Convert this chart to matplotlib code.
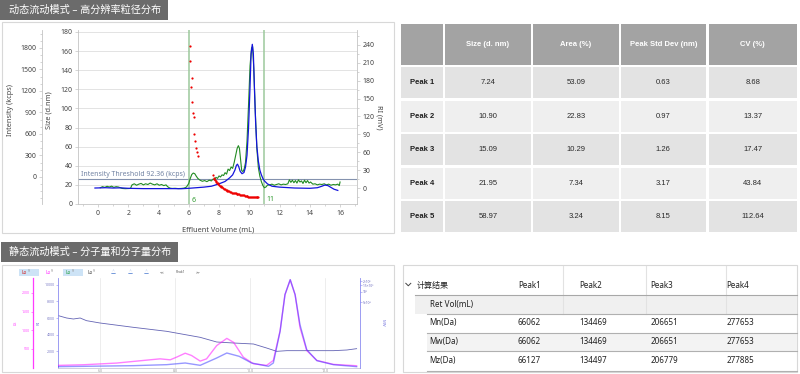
import numpy as np
import matplotlib
matplotlib.use("Agg")
import matplotlib.pyplot as plt
from matplotlib.patches import Rectangle
from matplotlib.ticker import MultipleLocator, NullLocator

plt.rcParams.update({
    "font.family": ["Noto Sans", "Noto Sans CJK SC", "DejaVu Sans"],
    "font.size": 5,
    "axes.linewidth": 0.6,
})

W, H = 800, 374

# ---------------- data: dynamic flow (DLS-SEC) ----------------
title_dyn = "动态流动模式 – 高分辨率粒径分布"
title_sta = "静态流动模式 – 分子量和分子量分布"

size_x = [6.08, 6.10, 6.15, 6.20, 6.23, 6.28, 6.33, 6.37, 6.41, 6.48, 6.55, 6.61,
          7.62, 7.66, 7.70, 7.74, 7.78, 7.82, 7.86, 7.90, 7.95, 8.00, 8.05, 8.10,
          8.15, 8.20, 8.26, 8.32, 8.38, 8.44, 8.50, 8.56, 8.62, 8.68, 8.74, 8.80,
          8.86, 8.92, 8.98, 9.04, 9.10, 9.16, 9.22, 9.28, 9.34, 9.40, 9.46, 9.52,
          9.58, 9.64, 9.70, 9.76, 9.82, 9.88, 9.94, 10.00, 10.06, 10.12, 10.18,
          10.24, 10.30, 10.36, 10.42, 10.48, 10.54, 10.60]
size_nm = [165.7, 150.0, 122.8, 131.6, 106.4, 95.5, 91.0, 73.3, 66.0, 59.0, 54.7, 50.5,
           30.0, 27.5, 26.0, 25.5, 24.0, 23.5, 22.0, 21.5, 20.5, 20.0, 19.0, 18.5,
           18.0, 17.5, 16.5, 16.0, 15.5, 15.0, 14.5, 14.0, 14.0, 13.5, 13.0, 12.5,
           12.0, 11.5, 11.5, 11.0, 11.0, 10.5, 10.0, 10.5, 10.0, 9.5, 9.5, 9.0,
           9.5, 9.0, 8.5, 8.0, 8.5, 8.0, 7.5, 7.5, 7.0, 7.5, 7.0,
           7.0, 7.5, 7.0, 7.0, 7.5, 7.5, 7.5]

int_x = [0.15, 0.3, 0.45, 0.6, 0.75, 0.9, 1.05, 1.2, 1.35, 1.45, 1.6, 1.8, 2.0, 2.15,
         2.25, 2.4, 2.55, 2.7, 2.85, 3.0, 3.15, 3.3, 3.45, 3.6, 3.75, 3.9, 4.05, 4.2,
         4.35, 4.5, 4.6, 4.75, 4.9, 5.1, 5.3, 5.5, 5.7, 5.85, 6.0, 6.1, 6.2, 6.3, 6.4,
         6.5, 6.6, 6.75, 6.9, 7.05, 7.2, 7.35, 7.5, 7.6, 7.7, 7.8, 7.9, 8.0, 8.1, 8.2,
         8.3, 8.4, 8.5, 8.6, 8.7, 8.8, 8.9, 9.0, 9.1, 9.2, 9.28, 9.35, 9.42, 9.5, 9.58,
         9.66, 9.75, 9.85, 9.95, 10.05, 10.15, 10.22, 10.3, 10.4, 10.5, 10.6, 10.7,
         10.8, 10.9, 11.0, 11.1, 11.2, 11.35, 11.5, 11.65, 11.8, 11.95, 12.1, 12.25,
         12.4, 12.55, 12.65, 12.75, 12.85, 12.95, 13.05, 13.15, 13.25, 13.35, 13.45,
         13.55, 13.65, 13.75, 13.85, 13.95, 14.05, 14.2, 14.35, 14.5, 14.65, 14.8,
         14.95, 15.1, 15.25, 15.4, 15.55, 15.7, 15.85, 15.95, 16.0]
int_kcps = [-150, -135, -145, -130, -140, -128, -145, -135, -140, -148, -160, -163, -162, -160,
            -110, -95, -115, -100, -90, -110, -95, -105, -85, -100, -110, -95, -115, -105,
            -120, -110, -135, -155, -160, -158, -162, -160, -155, -140, -90, -20, 35, 55, 45,
            10, -20, -45, -60, -50, -65, -45, -55, -30, -40, -5, -20, 15, 0, 30,
            20, 60, 40, 110, 90, 140, 120, 200, 300, 400, 437, 400, 250, 90, 75,
            110, 200, 500, 1000, 1550, 1800, 1820, 1500, 900, 400, 130, 10,
            -65, -120, -150, -140, -115, -110, -100, -115, -105, -95, -110, -100,
            -105, -95, -40, -75, -45, -80, -50, -85, -40, -70, -55,
            -90, -45, -80, -50, -85, -70, -100, -95, -110, -100, -105,
            -95, -110, -100, -115, -105, -110, -100, -120, -70]

ri_x = [-0.2, 0.5, 1.0, 1.5, 2.0, 3.0, 4.0, 5.0, 5.5, 6.0, 6.5, 7.0, 7.5, 8.0, 8.4,
        8.7, 8.9, 9.05, 9.15, 9.22, 9.3, 9.4, 9.52, 9.65, 9.75, 9.85, 9.95, 10.05,
        10.12, 10.2, 10.27, 10.35, 10.42, 10.5, 10.6, 10.7, 10.8, 10.9, 11.0, 11.2,
        11.5, 12.0, 13.0, 14.0, 14.5, 14.8, 15.0, 15.2, 15.4, 15.6, 15.85]
ri_mv = [0, 0.5, 0, 0.3, -0.5, -1, -1, -1, -1.2, -0.5, 0.5, 1.5, 3, 7, 11,
         17, 22, 30, 38, 40, 36, 28, 24, 26, 35, 55, 100, 170,
         225, 241, 225, 160, 110, 70, 45, 30, 22, 16, 12, 7,
         3, 1.5, 0, -0.5, 0.5, 3, 5, 4, 1, -2, -4]

threshold_label = "Intensity Threshold 92.36 (kcps)"
threshold_level = 26          # drawn level on the size scale
peak_window = [6, 11]

# ---------------- data: results table ----------------
tt_headers = ["Size (d. nm)", "Area (%)", "Peak Std Dev (nm)", "CV (%)"]
tt_rows = ["Peak 1", "Peak 2", "Peak 3", "Peak 4", "Peak 5"]
tt_size = ["7.24", "10.90", "15.09", "21.95", "58.97"]
tt_area = ["53.09", "22.83", "10.29", "7.34", "3.24"]
tt_std = ["0.63", "0.97", "1.26", "3.17", "8.15"]
tt_cv = ["8.68", "13.37", "17.47", "43.84", "112.64"]

# ---------------- data: static flow (SEC-MALS) ----------------
mw_x = [4.89, 5.11, 5.29, 5.47, 5.64, 6.0, 6.89, 7.78, 8.67, 9.11, 9.56, 10.09,
        10.44, 10.71, 10.98, 12.22, 12.58, 12.84]
mw_trace = [6280, 6000, 5880, 6000, 5680, 5400, 4880, 4400, 3680, 3120, 3000, 2880,
            2400, 2000, 2080, 2080, 2160, 2320]

ls_x = [4.89, 5.56, 6.44, 7.33, 7.6, 7.87, 8.04, 8.27, 8.44, 8.67, 8.84, 9.11, 9.38,
        9.56, 9.82, 10.09, 10.44, 10.62, 10.8, 10.93, 11.07, 11.2, 11.33, 11.51,
        11.78, 12.22, 12.84]
ls_sig = [60, 77, 122, 209, 235, 209, 280, 386, 325, 175, 235, 590, 783,
          677, 280, 103, 60, 193, 987, 1955, 2351, 1955, 1074, 458,
          193, 87, 50]

dri_x = [4.89, 6.89, 7.78, 8.27, 8.67, 9.11, 9.38, 9.71, 10.04, 10.49, 10.62, 10.8,
         10.93, 11.07, 11.2, 11.33, 11.51, 11.78, 12.22, 12.84]
dri_sig = [160, 280, 400, 600, 320, 1200, 1800, 1400, 600, 200, 600, 4400,
           8800, 10600, 8800, 5200, 2200, 880, 400, 160]

sec_xticks = [6, 8, 10, 12]
sec_xlabels = ["6.0", "8.0", "10.0", "12.0"]

bt_cols = ["Peak1", "Peak2", "Peak3", "Peak4"]
bt_rows = ["Ret Vol(mL)", "Mn(Da)", "Mw(Da)", "Mz(Da)"]
bt_retvol = ["", "", "", ""]
bt_mn = [66062, 134469, 206651, 277653]
bt_mw = [66062, 134469, 206651, 277653]
bt_mz = [66127, 134497, 206779, 277885]


def box(x0, y0, x1, y1):
    return [x0 / W, 1 - y1 / H, (x1 - x0) / W, (y1 - y0) / H]


fig = plt.figure(figsize=(8, 3.74), dpi=100, facecolor="white")
bg = fig.add_axes([0, 0, 1, 1])
bg.set_xlim(0, W)
bg.set_ylim(H, 0)
bg.axis("off")
bg.set_zorder(-5)


def rect(x0, y0, x1, y1, fc, ec="none", lw=0.0):
    bg.add_patch(Rectangle((x0, y0), x1 - x0, y1 - y0, facecolor=fc,
                           edgecolor=ec, lw=lw))


# section headers and frames
rect(0, 0, 168, 19.5, "#6b6b6b")
bg.text(9, 10, title_dyn, color="white", fontsize=7.3, ha="left", va="center")
rect(1, 242, 178, 262, "#6b6b6b")
bg.text(9, 252, title_sta, color="white", fontsize=7.3, ha="left", va="center")
rect(2, 21.5, 394, 233, "white", "#d8d8d8", 0.8)
rect(2, 265, 394, 372, "white", "#d8d8d8", 0.8)
rect(402.5, 265, 797, 372, "white", "#d8d8d8", 0.8)

# ---------------- top-right table ----------------
tbl_font = ["Liberation Sans", "DejaVu Sans"]
col_edges = [(401, 443), (445, 531), (533, 618.5), (620.5, 706), (708.5, 797)]
for (x0, x1), lab in zip(col_edges, [""] + tt_headers):
    rect(x0, 24, x1, 64.5, "#a3a3a3")
    bg.text((x0 + x1) / 2, 44.5, lab, color="white", fontsize=5.5, family=tbl_font,
            fontweight="bold", ha="center", va="center")
cols = [tt_size, tt_area, tt_std, tt_cv]
for i, name in enumerate(tt_rows):
    y0 = 67 + i * 33.6
    y1 = y0 + 31
    fc = "#e3e3e3" if i % 2 == 0 else "#efefef"
    for (x0, x1) in col_edges:
        rect(x0, y0, x1, y1, fc)
    yc = (y0 + y1) / 2
    x0, x1 = col_edges[0]
    bg.text((x0 + x1) / 2, yc, name, color="#1e1e1e", fontsize=5.5, family=tbl_font,
            fontweight="bold", ha="center", va="center")
    for (x0, x1), vals in zip(col_edges[1:], cols):
        bg.text((x0 + x1) / 2, yc, vals[i], color="#2a2a2a", fontsize=5.5,
                family=tbl_font, ha="center", va="center")

# ---------------- bottom-right table ----------------
bt_x = [518, 579, 650.5, 726.5]
seps = [563.3, 645.7, 726]
bg.plot([405.8, 408.3, 410.8], [283.3, 285.8, 283.3], color="#444444", lw=0.7)
bg.text(417, 285, "计算结果", color="#222222", fontsize=5.8, ha="left", va="center")
for x, lab in zip(bt_x, bt_cols):
    bg.text(x, 285, lab, color="#222222", fontsize=5.8, ha="left", va="center")
rect(415, 295, 797, 314, "#f0f0f0")
rect(427, 333, 797, 351.3, "#f3f3f3")
for xs in seps:
    bg.plot([xs, xs], [265.5, 314], color="#e2e2e2", lw=0.8)
bg.plot([415, 797], [294.7, 294.7], color="#a8a8a8", lw=0.8)
for yl in [314, 333, 351.3, 370.7]:
    bg.plot([427, 797], [yl, yl], color="#b0b0b0", lw=0.8)
row_vals = [bt_retvol, bt_mn, bt_mw, bt_mz]
for j, (name, vals) in enumerate(zip(bt_rows, row_vals)):
    yc = 304 + j * 18.9
    bg.text(429.5, yc, name, color="#222222", fontsize=5.8, ha="left", va="center")
    for x, v in zip(bt_x, vals):
        bg.text(x, yc, str(v), color="#222222", fontsize=5.8, ha="left", va="center")

# ---------------- top-left chart ----------------
tick_gray = "#c4c4c4"
lab_col = "#444444"
ax = fig.add_axes(box(78, 30, 357, 204))
ax.patch.set_alpha(0)
ax.set_xlim(-1.32, 17.12)
ax.set_ylim(0, 182)
ax.set_yticks(np.arange(0, 181, 20))
ax.set_xticks(np.arange(0, 17, 2))
ax.xaxis.set_minor_locator(MultipleLocator(1))
ax.grid(axis="y", color="#dedede", lw=0.6)
ax.set_axisbelow(True)
for s in ["top", "right"]:
    ax.spines[s].set_visible(False)
for s in ["left", "bottom"]:
    ax.spines[s].set_color(tick_gray)
ax.tick_params(which="both", colors=tick_gray, labelcolor=lab_col, labelsize=5,
               length=2, width=0.5, pad=2)
ax.tick_params(which="minor", length=1.2)
ax.set_ylabel("Size (d.nm)", color=lab_col, fontsize=5.3)
ax.yaxis.set_label_coords((52 - 78) / 279, 0.54)
ax.set_xlabel("Effluent Volume (mL)", color=lab_col, fontsize=5.3)
ax.xaxis.set_label_coords(0.502, -0.13)

ax.axhline(threshold_level, color="#8492ae", lw=0.8)
ax.text(-1.15, threshold_level + 1.2, threshold_label, color="#7283a3",
        fontsize=5, ha="left", va="bottom")
for xv in peak_window:
    ax.axvline(xv, color="#9cc99c", lw=1.1)
ax.text(6.35, 4, "6", color="#2e9a2e", fontsize=5, ha="center", va="center")
ax.text(11.37, 5, "11", color="#2e9a2e", fontsize=5, ha="center", va="center")

ax_int = ax.twinx()
ax_int.set_ylim(-377, 2051)
ax_int.yaxis.set_ticks_position("left")
ax_int.yaxis.set_label_position("left")
ax_int.spines["left"].set_position(("axes", (42 - 78) / 279))
ax_int.spines["left"].set_visible(True)
ax_int.spines["left"].set_color(tick_gray)
for s in ["top", "right", "bottom"]:
    ax_int.spines[s].set_visible(False)
ax_int.set_yticks(np.arange(0, 1801, 300))
ax_int.yaxis.set_minor_locator(MultipleLocator(100))
ax_int.tick_params(which="both", colors=tick_gray, labelcolor=lab_col, labelsize=5,
                   length=2, width=0.5, pad=2)
ax_int.tick_params(which="minor", length=1.2)
ax_int.set_ylabel("Intensity (kcps)", color=lab_col, fontsize=5.3)
ax_int.yaxis.set_label_coords((14 - 78) / 279, 0.54)
ax_int.plot(int_x, int_kcps, color="#228b22", lw=0.8)

ax_ri = ax.twinx()
ax_ri.set_ylim(-26.8, 265)
for s in ["top", "left", "bottom"]:
    ax_ri.spines[s].set_visible(False)
ax_ri.spines["right"].set_color(tick_gray)
ax_ri.set_yticks(np.arange(0, 241, 30))
ax_ri.yaxis.set_minor_locator(MultipleLocator(15))
ax_ri.tick_params(which="both", colors=tick_gray, labelcolor=lab_col, labelsize=5,
                  length=2, width=0.5, pad=2)
ax_ri.tick_params(which="minor", length=1.2)
ax_ri.set_ylabel("RI (mV)", color=lab_col, fontsize=5.3, rotation=-90)
ax_ri.yaxis.set_label_coords((383 - 78) / 279, 0.5)
ax_ri.plot(ri_x, ri_mv, color="#1414dc", lw=0.9)

ax_dots = ax.twinx()
ax_dots.set_ylim(ax.get_ylim())
ax_dots.axis("off")
ax_dots.plot(size_x, size_nm, "o", color="#ee0000", ms=1.6, mew=0)

# ---------------- bottom-left chart ----------------
blue_ax = "#8c8cf0"
axb = fig.add_axes(box(58, 278, 360, 368))
axb.patch.set_alpha(0)
axb.set_xlim(4.88, 12.93)
axb.set_ylim(0, 10800)
axb.set_xticks(sec_xticks)
axb.set_xticklabels(sec_xlabels)
axb.set_yticks([2000, 4000, 6000, 8000, 10000])
axb.grid(axis="x", color="#e6e6e6", lw=0.5)
for s in ["top", "right"]:
    axb.spines[s].set_visible(False)
axb.spines["left"].set_color(blue_ax)
axb.spines["bottom"].set_color("#c8c8d8")
axb.tick_params(axis="y", colors=blue_ax, labelcolor="#8080c8", labelsize=2.6,
                length=1.2, width=0.4, pad=1)
axb.tick_params(axis="x", colors="#c8c8c8", labelcolor="#999999", labelsize=2.6,
                length=0, pad=1)
axb.plot(mw_x, mw_trace, color="#6464b4", lw=0.6)

ax_m = axb.twinx()
ax_m.set_ylim(-10, 2400)
ax_m.yaxis.set_ticks_position("left")
ax_m.spines["left"].set_position(("axes", (33 - 58) / 302))
ax_m.spines["left"].set_visible(True)
ax_m.spines["left"].set_color("#ff3cff")
ax_m.spines["left"].set_linewidth(0.9)
for s in ["top", "right", "bottom"]:
    ax_m.spines[s].set_visible(False)
ax_m.set_yticks([500, 1000, 1500, 2000])
ax_m.tick_params(axis="y", colors="#ff3cff", labelcolor="#ff50ff", labelsize=2.6,
                 length=1.2, width=0.4, pad=1)
ax_m.plot(ls_x, ls_sig, color="#ff00ff", lw=1.0, alpha=0.5)

ax_r = axb.twinx()
ax_r.set_yscale("log")
ax_r.set_ylim(710, 2.43e5)
ax_r.set_yticks([5e4, 1e5, 1.5e5, 2e5])
ax_r.set_yticklabels(["5×10⁴", "10⁵", "1.5×10⁵", "2×10⁵"])
ax_r.yaxis.set_minor_locator(NullLocator())
for s in ["top", "left", "bottom"]:
    ax_r.spines[s].set_visible(False)
ax_r.spines["right"].set_color(blue_ax)
ax_r.tick_params(axis="y", colors=blue_ax, labelcolor="#7070c0", labelsize=2.4,
                 length=1.2, width=0.4, pad=1)

# dRI trace drawn last so its overlap with LS blends to purple
ax_d = axb.twinx()
ax_d.set_ylim(axb.get_ylim())
ax_d.axis("off")
ax_d.plot(dri_x, dri_sig, color="#3030ff", lw=1.0, alpha=0.5)

bg.text(16, 323, "LS", color="#ff40ff", fontsize=3, rotation=90, ha="center", va="center")
bg.text(39, 323, "RI", color="#8080e0", fontsize=3, rotation=90, ha="center", va="center")
bg.text(383, 323, "MW", color="#8080e0", fontsize=3, rotation=-90, ha="center", va="center")

# toolbar strip
rect(19, 268.5, 38.5, 276, "#cde3f6")
rect(63, 268.5, 83, 276, "#cde3f6")
for x, c in [(22, "#d02020"), (45, "#ff30ff"), (65.5, "#20a040"), (87, "#444444")]:
    bg.text(x, 272.3, "Lo", color=c, fontsize=3.4, ha="left", va="center")
    bg.text(x + 6, 271, "RI", color="#999999", fontsize=2, ha="left", va="center")
for x in [113, 130, 146]:
    bg.text(x, 272.3, "△", color="#4a7ad0", fontsize=3.6, ha="center", va="center")
bg.text(162, 272.3, "<<", color="#333333", fontsize=3, ha="center", va="center")
bg.text(180, 272.3, "Peak1", color="#555555", fontsize=2.4, ha="center", va="center")
bg.text(198, 272.3, ">>", color="#333333", fontsize=3, ha="center", va="center")

fig.savefig("out.png", dpi=100, facecolor="white")
